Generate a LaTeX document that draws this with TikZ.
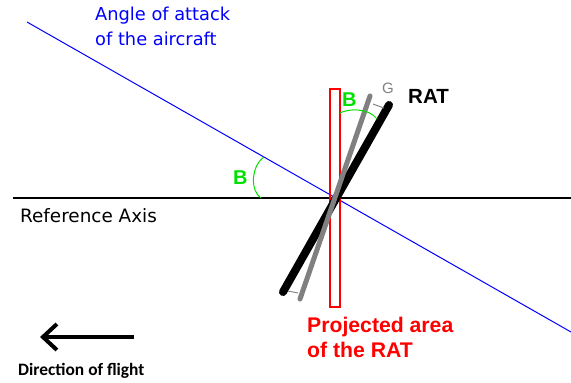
\documentclass[tikz,border=0pt]{standalone}
\usepackage{fontspec}
\setmainfont{Liberation Sans}
\newfontfamily\dejavu{DejaVu Sans}
\newfontfamily\carlito{Carlito}
\usetikzlibrary{arrows.meta}
\definecolor{brgreen}{RGB}{0,225,0}
\definecolor{bargray}{RGB}{128,128,128}
\begin{document}
\begin{tikzpicture}[x=1pt,y=-1pt,
  lbl/.style={inner sep=0pt,anchor=base west},
  barblack/.style={line width=8pt,line cap=round,black},
  bargrey/.style={line width=5pt,line cap=round,bargray},
  thinlink/.style={line width=0.9pt,bargray},
  anglearc/.style={line width=1pt,brgreen},
  blabel/.style={lbl,text=brgreen,font=\fontsize{20}{24}\selectfont\bfseries}]
\useasboundingbox (0,0) rectangle (571,383);
% named points
\coordinate (axL) at (13,198);
\coordinate (axR) at (571,198);
\coordinate (aoaA) at (27,22);
\coordinate (aoaB) at (571,332);
\coordinate (bk1) at (283,292);
\coordinate (bk2) at (389,105);
\coordinate (gy1) at (300,299);
\coordinate (gy2) at (370,96);
% axes
\draw[line width=1.2pt,black] (axL) -- (axR);
\draw[line width=1pt,blue] (aoaA) -- (aoaB);
% projected area
\node[draw=red,line width=1.3pt,minimum width=10pt,minimum height=218pt,inner sep=0pt] (proj) at (335,198) {};
% RAT bars
\draw[barblack] (bk1) -- (bk2);
\draw[bargrey] (gy1) -- (gy2);
\coordinate (tl1) at (373,104);
\coordinate (tl2) at (384,108);
\coordinate (bl1) at (288,291);
\coordinate (bl2) at (298,293);
\draw[thinlink] (tl1) -- (tl2);
\draw[thinlink] (bl1) -- (bl2);
% angle arcs
\coordinate (la1) at (261,198);
\coordinate (la2) at (264,157);
\draw[anglearc] (la1) .. controls (250,191) and (251,166) .. (la2);
\coordinate (ta1) at (340,113);
\coordinate (ta2) at (377,119);
\draw[anglearc] (ta1) .. controls (347,109) and (368,107) .. (ta2);
% labels
\node[blabel] (bleft) at (233,184) {B};
\node[blabel] (btop) at (342,106) {B};
\node[lbl,text=bargray,font=\fontsize{15}{18}\selectfont] (g) at (382,93) {G};
\node[lbl,font=\fontsize{20.5}{24}\selectfont\bfseries] (rat) at (408,103) {RAT};
\node[lbl,text=blue,font=\dejavu\fontsize{17.8}{20}\selectfont] (aoa1) at (95,20) {Angle of attack};
\node[lbl,text=blue,font=\dejavu\fontsize{17.8}{20}\selectfont] (aoa2) at (95,45) {of the aircraft};
\node[lbl,font=\dejavu\fontsize{18.4}{20}\selectfont] (ref) at (20,222) {Reference Axis};
\node[lbl,text=red,font=\fontsize{21.2}{24}\selectfont\bfseries] (pa1) at (307,332) {Projected area};
\node[lbl,text=red,font=\fontsize{21.2}{24}\selectfont\bfseries] (pa2) at (307,357) {of the RAT};
\node[lbl,font=\carlito\fontsize{17.4}{20}\selectfont\bfseries] (dir) at (18,375) {Direction of flight};
% direction arrow
\coordinate (arS) at (134,337);
\coordinate (arE) at (40,337);
\draw[line width=4pt,-{Straight Barb[length=14pt,width=26pt]}] (arS) -- (arE);
\end{tikzpicture}
\end{document}
